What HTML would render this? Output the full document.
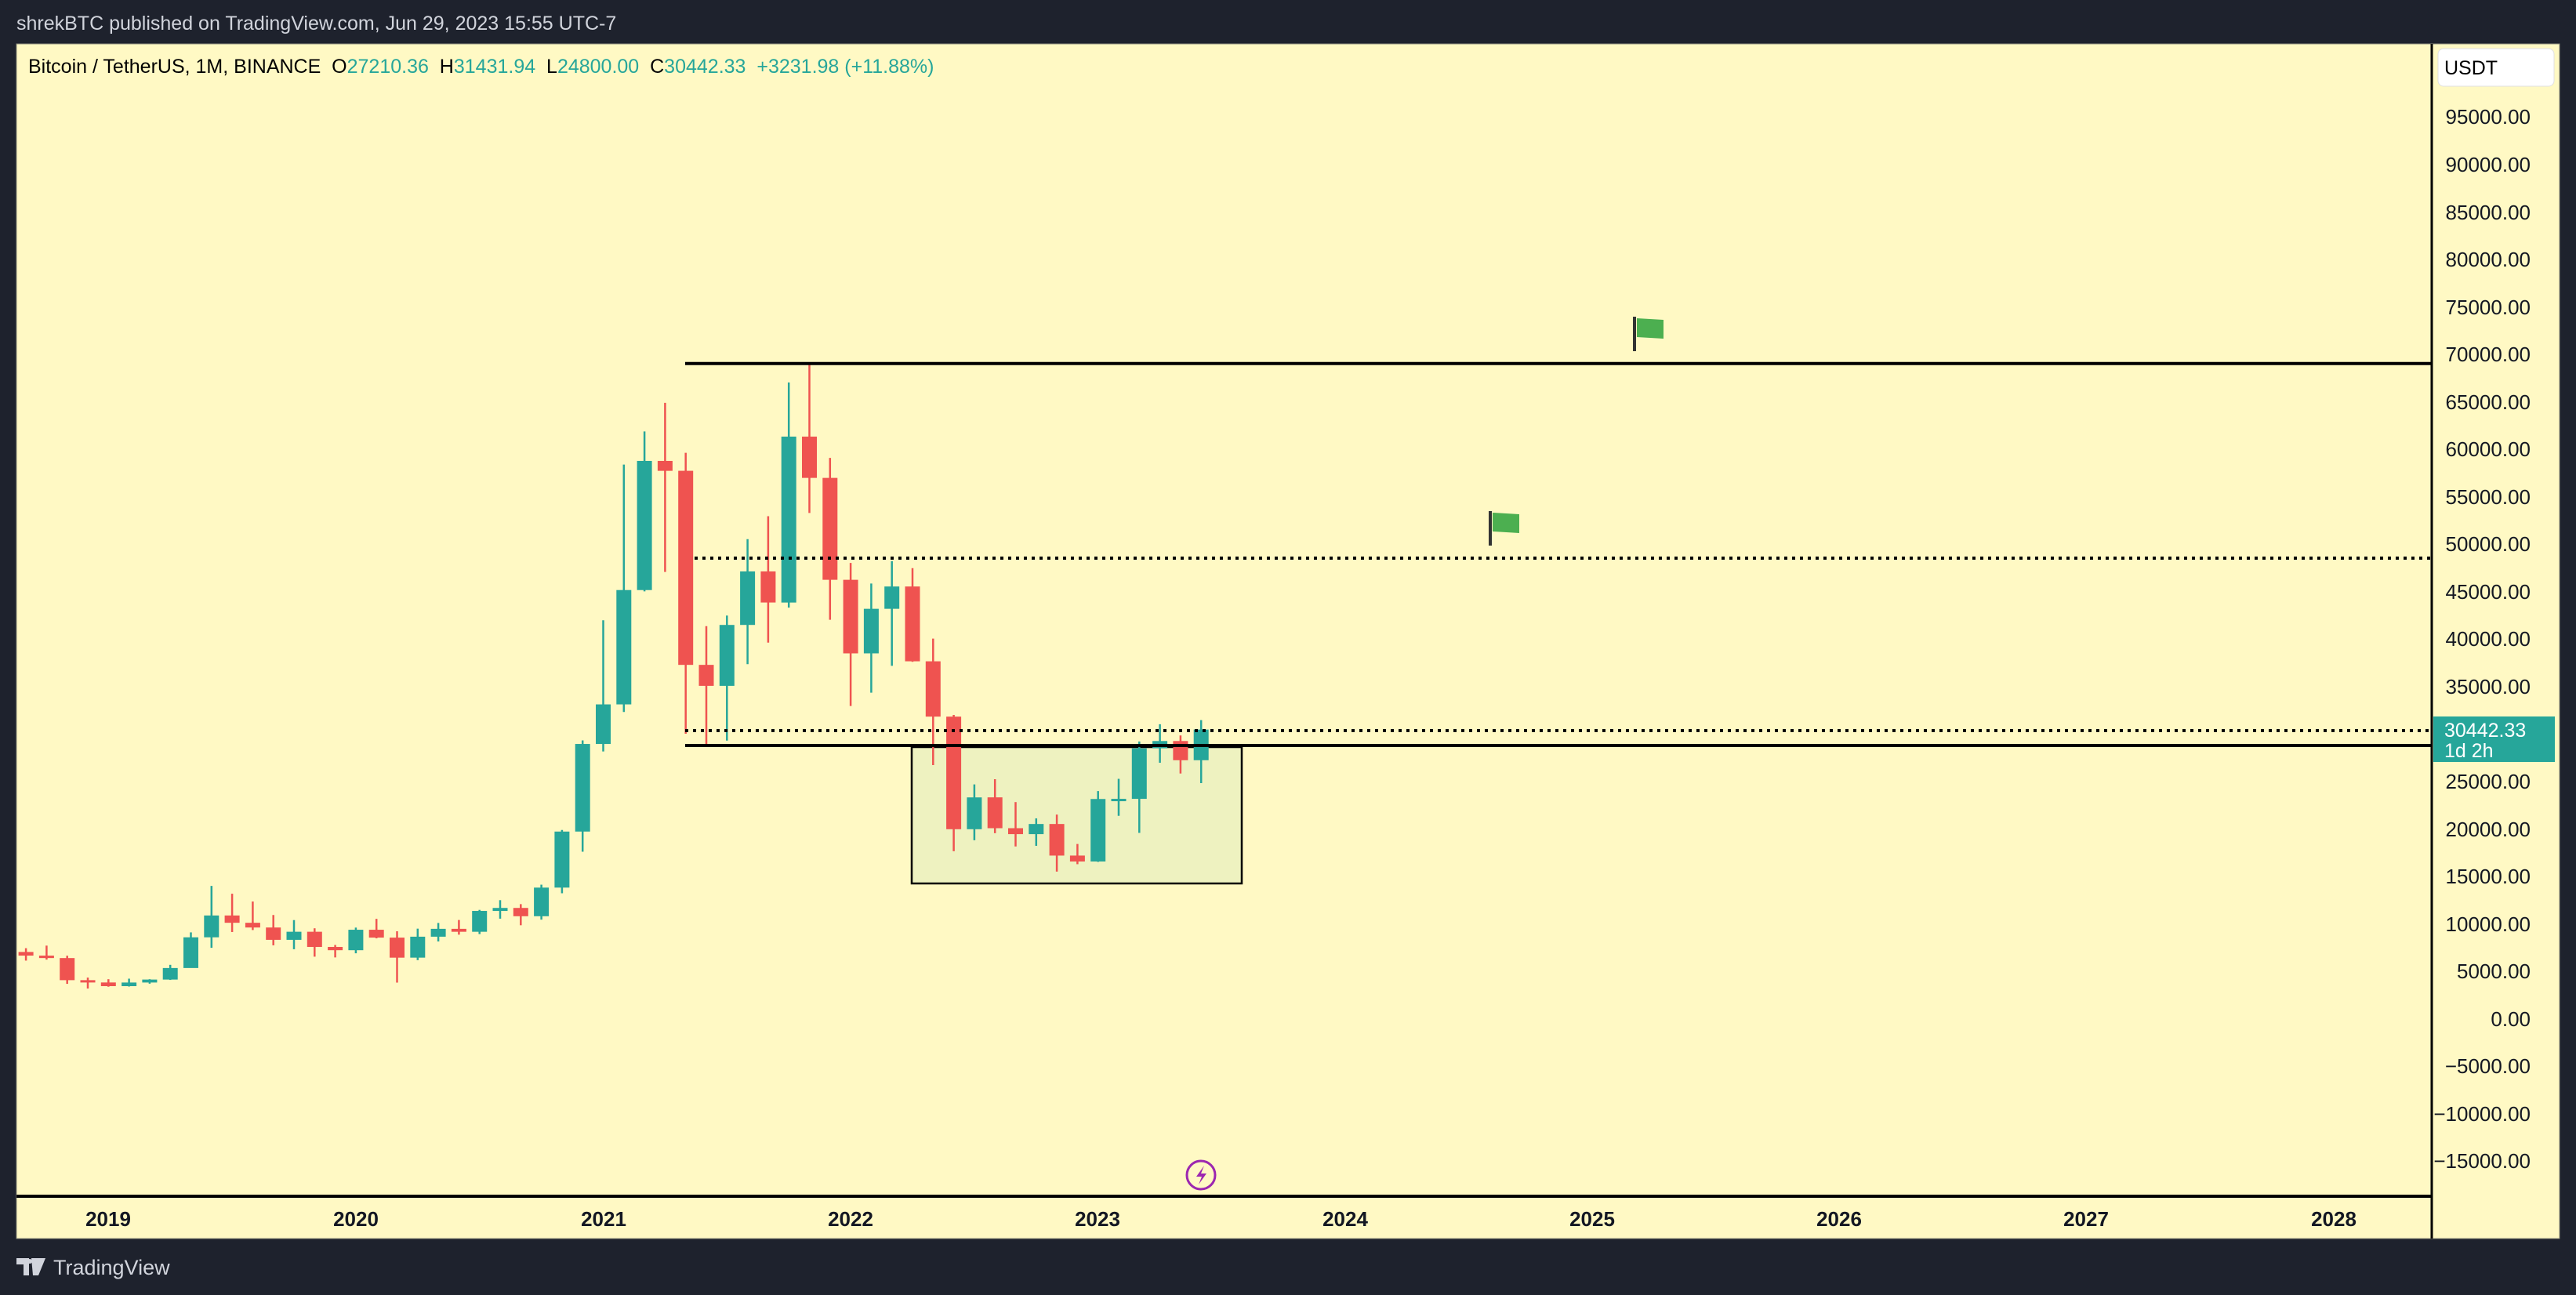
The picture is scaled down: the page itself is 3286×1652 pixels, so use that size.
<!DOCTYPE html>
<html><head><meta charset="utf-8"><style>
html,body{margin:0;padding:0;background:#1e222d;width:3286px;height:1652px;overflow:hidden}
svg{display:block}
text{font-family:"Liberation Sans",sans-serif;white-space:pre}
</style></head><body>
<svg id="s" width="3286" height="1652" viewBox="0 0 3286 1652" xmlns="http://www.w3.org/2000/svg" xml:space="preserve">
<rect x="0" y="0" width="3286" height="1652" fill="#1e222d"/>
<text x="21" y="38" font-size="25" fill="#d1d4dc">shrekBTC published on TradingView.com, Jun 29, 2023 15:55 UTC-7</text>
<rect x="21" y="56" width="3244" height="1524" fill="#fff9c4" stroke="#8a8a7a" stroke-width="1"/>
<rect x="1163" y="953" width="421" height="174" fill="#eef2c0" stroke="#000" stroke-width="2.5"/>
<g id="c"></g>
<line x1="874" y1="463.7" x2="3102" y2="463.7" stroke="#000" stroke-width="4"/>
<line x1="886" y1="712" x2="3102" y2="712" stroke="#000" stroke-width="4" stroke-dasharray="4 6"/>
<line x1="874" y1="932" x2="3102" y2="932" stroke="#000" stroke-width="4" stroke-dasharray="4 6"/>
<line x1="874" y1="951" x2="3102" y2="951" stroke="#000" stroke-width="4"/>
<line x1="2085" y1="404" x2="2085" y2="448" stroke="#333" stroke-width="4"/>
<path d="M2088 406 L2122 408 L2122 432 L2088 430 Z" fill="#4caf50"/>
<line x1="1901" y1="652" x2="1901" y2="696" stroke="#333" stroke-width="4"/>
<path d="M1904 654 L1938 656 L1938 680 L1904 678 Z" fill="#4caf50"/>
<line x1="3102" y1="56" x2="3102" y2="1580" stroke="#000" stroke-width="3"/>
<line x1="21" y1="1526" x2="3102" y2="1526" stroke="#000" stroke-width="4"/>
<text x="36" y="93" font-size="25" fill="#000">Bitcoin / TetherUS, 1M, BINANCE  O<tspan fill="#26a69a">27210.36</tspan>  H<tspan fill="#26a69a">31431.94</tspan>  L<tspan fill="#26a69a">24800.00</tspan>  C<tspan fill="#26a69a">30442.33</tspan>  <tspan fill="#26a69a">+3231.98 (+11.88%)</tspan></text>
<rect x="3110" y="62" width="148" height="48" rx="7" fill="#fff" stroke="#e0e0e0"/>
<text x="3118" y="95" font-size="25" fill="#000">USDT</text>
<g font-size="26" fill="#131722" text-anchor="end">
<text x="3228" y="158">95000.00</text><text x="3228" y="219">90000.00</text><text x="3228" y="280">85000.00</text><text x="3228" y="340">80000.00</text><text x="3228" y="401">75000.00</text><text x="3228" y="461">70000.00</text><text x="3228" y="522">65000.00</text><text x="3228" y="582">60000.00</text><text x="3228" y="643">55000.00</text><text x="3228" y="703">50000.00</text><text x="3228" y="764">45000.00</text><text x="3228" y="824">40000.00</text><text x="3228" y="885">35000.00</text><text x="3228" y="1006">25000.00</text><text x="3228" y="1067">20000.00</text><text x="3228" y="1127">15000.00</text><text x="3228" y="1188">10000.00</text><text x="3228" y="1248">5000.00</text><text x="3228" y="1309">0.00</text><text x="3228" y="1369">−5000.00</text><text x="3228" y="1430">−10000.00</text><text x="3228" y="1490">−15000.00</text>
</g>
<rect x="3104" y="914" width="155" height="58" fill="#26a69a"/>
<text x="3118" y="940" font-size="25" fill="#fff">30442.33</text>
<text x="3118" y="966" font-size="25" fill="#fff">1d 2h</text>
<g font-size="26" font-weight="bold" fill="#131722" text-anchor="middle">
<text x="138" y="1564">2019</text><text x="454" y="1564">2020</text><text x="770" y="1564">2021</text><text x="1085" y="1564">2022</text><text x="1400" y="1564">2023</text><text x="1716" y="1564">2024</text><text x="2031" y="1564">2025</text><text x="2346" y="1564">2026</text><text x="2661" y="1564">2027</text><text x="2977" y="1564">2028</text>
</g>
<circle cx="1532" cy="1499" r="18" fill="none" stroke="#9c27b0" stroke-width="3"/>
<path d="M1536 1487 L1526 1501 L1533 1501 L1529 1511 L1539 1497 L1532 1497 Z" fill="#9c27b0"/>
<path d="M21 1605 h16 v22 h-7 v-14 h-9 Z M40 1605 h18 l-9 22 h-7 Z" fill="#d1d4dc"/>
<circle cx="38" cy="1609" r="3" fill="#d1d4dc"/>
<text x="68" y="1626" font-size="27" fill="#d1d4dc">TradingView</text>
</svg>
<script>
var d=[[7011,7410,6100,6626],[6626,7680,6205,6371],[6369,6615,3652,4041],[4041,4312,3157,3797],[3797,4140,3349,3410],[3410,4198,3370,3791],[3791,4140,3670,4104],[4103,5656,4067,5320],[5320,9074,5350,8555],[8555,13970,7444,10854],[10854,13147,9111,10085],[10085,12325,9320,9588],[9588,10905,7710,8289],[8289,10370,7300,9140],[9140,9505,6515,7541],[7541,7750,6435,7195],[7195,9578,6871,9351],[9351,10500,8445,8523],[8523,9188,3782,6410],[6412,9467,6150,8620],[8620,10067,8117,9448],[9448,10380,8833,9138],[9138,11444,8893,11335],[11335,12468,10518,11650],[11650,12050,9825,10776],[10776,14100,10416,13791],[13791,19863,13195,19695],[19695,29300,17572,28923],[28923,41950,28130,33092],[33092,58352,32296,45135],[45134,61845,45000,58740],[58739,64854,47044,57694],[57697,59592,30000,37253],[37254,41330,28805,35045],[35045,42448,29278,41461],[41461,50500,37332,47100],[47100,52920,39600,43824],[43820,67000,43283,61299],[61300,69000,53256,56950],[56950,59053,42000,46216],[46216,47990,32917,38466],[38466,45821,34322,43160],[43160,48189,37155,45510],[45510,47444,37578,37630],[37630,40023,26700,31801],[31801,31986,17622,19942],[19942,24668,18782,23293],[23297,25211,19520,20050],[20050,22800,18125,19423],[19423,21085,18190,20491],[20491,21480,15476,17164],[17165,18387,16256,16542],[16542,23960,16500,23125],[23125,25250,21351,23141],[23141,29184,19549,28465],[28465,31000,26942,29233],[29233,29820,25811,27210],[27210,31432,24800,30442]];
function y(p){return 1299.3-p*0.01211;}
var h='';
for(var i=0;i<d.length;i++){var x=138.3+(i-4)*26.3,o=d[i][0],c=d[i][3],col=c>=o?'#26a69a':'#ef5350';
h+='<line x1="'+x+'" x2="'+x+'" y1="'+y(d[i][1])+'" y2="'+y(d[i][2])+'" stroke="'+col+'" stroke-width="2.5"/>';
var t=y(Math.max(o,c)),b=y(Math.min(o,c));if(b-t<3)b=t+3;
h+='<rect x="'+(x-9.5)+'" y="'+t+'" width="19" height="'+(b-t)+'" fill="'+col+'"/>';}
document.getElementById('c').innerHTML=h;
</script>
</body></html>
